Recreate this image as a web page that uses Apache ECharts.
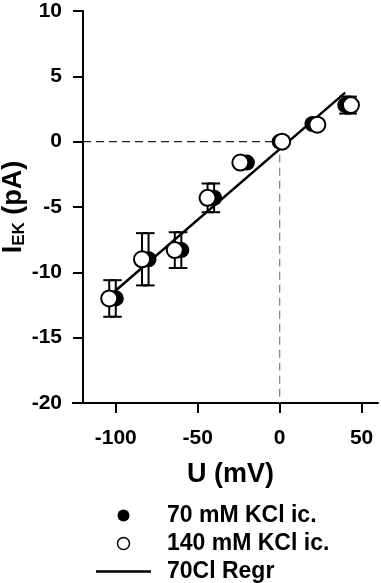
<!DOCTYPE html>
<html>
<head>
<meta charset="utf-8">
<script src="https://cdn.jsdelivr.net/npm/echarts@6/dist/echarts.min.js"></script>
<style>
  html, body { margin: 0; padding: 0; background: #fff; }
  #chart { width: 381px; height: 583px; }
</style>
</head>
<body>
<div id="chart"></div>
<script>
// 70 mM KCl ic. (filled)
var v70 = [-100, -80, -60, -40, -20, 0, 20, 40];
var i70 = [-12.0, -9.0, -8.3, -4.3, -1.6, 0.0, 1.35, 2.8];
// 140 mM KCl ic. (open)
var v140 = [-104, -84, -64, -44, -24, 1.5, 23, 43.5];
var i140 = [-12.0, -9.0, -8.3, -4.3, -1.6, 0.0, 1.3, 2.8];
// error bars (same for both)
var sem = [1.4, 2.0, 1.37, 1.1, 0.2, 0.2, 0.2, 0.65];
// regression line ends
var regrV = [-102, 40];
var regrI = [-11.6, 3.75];
// dashed guides
var hGuideV = [-120, 0];
var hGuideI = [0, 0];
var vGuideV = [0, 0];
var vGuideI = [0, -20];
var xTicks = [-100, -50, 0, 50];

function pairs(xs, ys) {
  var out = [];
  for (var i = 0; i < xs.length; i++) out.push([xs[i], ys[i]]);
  return out;
}
function errData(xs, ys, es) {
  var out = [];
  for (var i = 0; i < xs.length; i++) out.push([xs[i], ys[i] - es[i], ys[i] + es[i]]);
  return out;
}
function renderErr(params, api) {
  var lo = api.coord([api.value(0), api.value(1)]);
  var hi = api.coord([api.value(0), api.value(2)]);
  var w = 6;
  var st = { stroke: '#000', lineWidth: 2, fill: null };
  return {
    type: 'group',
    children: [
      { type: 'line', shape: { x1: lo[0], y1: lo[1], x2: hi[0], y2: hi[1] }, style: st },
      { type: 'line', shape: { x1: lo[0] - w, y1: lo[1], x2: lo[0] + w, y2: lo[1] }, style: st },
      { type: 'line', shape: { x1: hi[0] - w, y1: hi[1], x2: hi[0] + w, y2: hi[1] }, style: st }
    ]
  };
}

var font = 'Liberation Sans, Arial, sans-serif';
var chart = echarts.init(document.getElementById('chart'));
var option = {
  animation: false,
  backgroundColor: '#fff',
  grid: { left: 83, top: 11, width: 295, height: 392, outerBoundsMode: 'none' },
  xAxis: {
    type: 'value',
    min: -120, max: 60,
    name: 'U (mV)',
    nameLocation: 'middle',
    nameGap: 58,
    nameMoveOverlap: false,
    nameTextStyle: { fontFamily: font, fontWeight: 'bold', fontSize: 27, color: '#000' },
    axisLine: { onZero: false, lineStyle: { color: '#000', width: 2 } },
    axisTick: { show: true, inside: false, length: 10, customValues: xTicks, lineStyle: { color: '#000', width: 2 } },
    axisLabel: { customValues: xTicks, margin: 25, fontFamily: font, fontWeight: 'bold', fontSize: 21, color: '#000' },
    splitLine: { show: false }
  },
  yAxis: {
    type: 'value',
    min: -20, max: 10, interval: 5,
    name: '{a|I}{b|EK}{a| (pA)}',
    nameLocation: 'middle',
    nameGap: 55,
    nameRotate: 90,
    nameMoveOverlap: false,
    nameTextStyle: {
      color: '#000',
      rich: {
        a: { fontFamily: font, fontWeight: 'bold', fontSize: 27, color: '#000' },
        b: { fontFamily: font, fontWeight: 'bold', fontSize: 17, color: '#000', padding: [12, 0, 0, 0] }
      }
    },
    axisLine: { onZero: false, lineStyle: { color: '#000', width: 2 } },
    axisTick: { length: 10, lineStyle: { color: '#000', width: 2 } },
    axisLabel: { margin: 21, fontFamily: font, fontWeight: 'bold', fontSize: 21, color: '#000' },
    splitLine: { show: false }
  },
  legend: {
    orient: 'vertical',
    left: 96,
    top: 504,
    padding: 0,
    itemWidth: 55,
    itemHeight: 12,
    itemGap: 5,
    data: [
      { name: '70 mM KCl ic.' },
      { name: '140 mM KCl ic.', itemStyle: { borderWidth: 1.5 } },
      { name: '70Cl Regr', icon: 'path://M0,0L55,0L55,2.5L0,2.5Z' }
    ],
    textStyle: { fontFamily: font, fontWeight: 'bold', fontSize: 23, lineHeight: 22, color: '#000', padding: [0, 0, 0, 11] }
  },
  graphic: [
    { type: 'line', shape: { x1: 72, y1: 403, x2: 84, y2: 403 }, style: { stroke: '#000', lineWidth: 2 } }
  ],
  series: [
    {
      name: 'hguide', type: 'line', data: pairs(hGuideV, hGuideI), symbol: 'none',
      lineStyle: { color: '#222', width: 1.3, type: [8, 5] }, z: 1
    },
    {
      name: 'vguide', type: 'line', data: pairs(vGuideV, vGuideI), symbol: 'none',
      lineStyle: { color: '#888', width: 1.3, type: [8, 5] }, z: 1
    },
    {
      name: 'err70', type: 'custom', renderItem: renderErr, data: errData(v70, i70, sem), z: 2
    },
    {
      name: 'err140', type: 'custom', renderItem: renderErr, data: errData(v140, i140, sem), z: 2
    },
    {
      name: '70Cl Regr', type: 'line', data: pairs(regrV, regrI), symbol: 'none',
      lineStyle: { color: '#000', width: 2.5 }, itemStyle: { color: '#000' }, z: 3
    },
    {
      name: '70 mM KCl ic.', type: 'scatter', data: pairs(v70, i70), symbol: 'circle', symbolSize: 16,
      itemStyle: { color: '#000', opacity: 1 }, z: 4
    },
    {
      name: '140 mM KCl ic.', type: 'scatter', data: pairs(v140, i140), symbol: 'circle', symbolSize: 16,
      itemStyle: { color: '#fff', borderColor: '#000', borderWidth: 2, opacity: 1 }, z: 5
    }
  ]
};
chart.setOption(option);
</script>
</body>
</html>
